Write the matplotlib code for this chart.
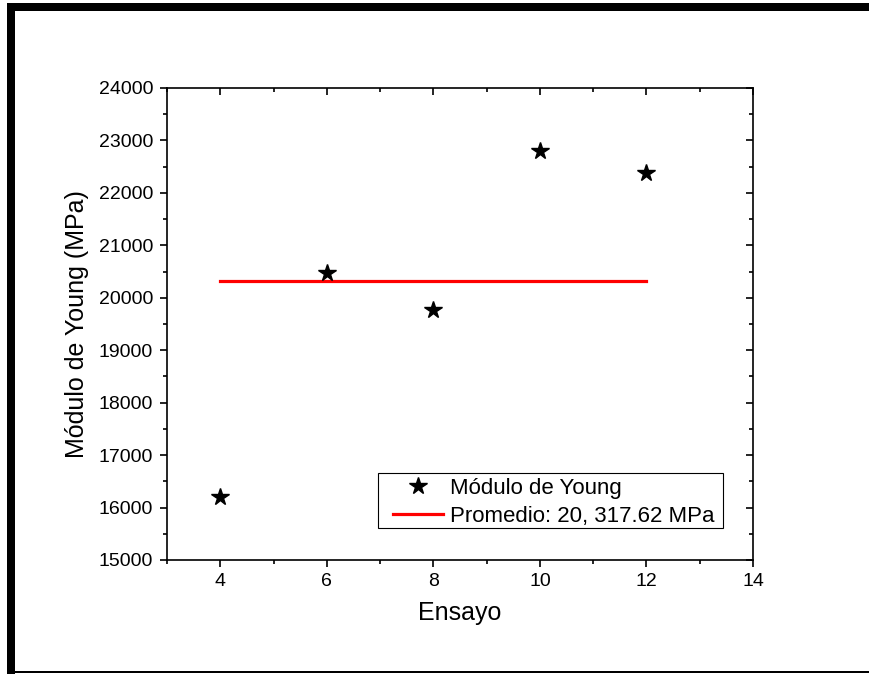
import matplotlib
matplotlib.use("Agg")
import matplotlib.pyplot as plt
from matplotlib.ticker import MultipleLocator
from matplotlib.patches import Rectangle

plt.rcParams['font.family'] = ['Liberation Sans', 'DejaVu Sans']

ensayo = [4, 6, 8, 10, 12]
modulo = [16200, 20465, 19767, 22800, 22386]
promedio = 20317.62
prom_x = [4, 12]
series_label = "Módulo de Young"
prom_label = "Promedio: 20, 317.62 MPa"

fig = plt.figure(figsize=(8.7, 6.74), dpi=100)
ax = fig.add_axes([167/870, 1-560/674, (753-167)/870, (560-88)/674])

ax.plot(ensayo, modulo, linestyle='none', marker='*', color='black',
        markersize=13, label=series_label, zorder=3)
ax.plot(prom_x, [promedio, promedio], color='#ff0000', linewidth=2.3,
        label=prom_label, zorder=2)

ax.set_xlim(3, 14)
ax.set_ylim(15000, 24000)
ax.xaxis.set_major_locator(MultipleLocator(2))
ax.xaxis.set_minor_locator(MultipleLocator(1))
ax.yaxis.set_major_locator(MultipleLocator(1000))
ax.yaxis.set_minor_locator(MultipleLocator(500))
ax.set_xticks([4, 6, 8, 10, 12, 14])

for sp in ax.spines.values():
    sp.set_linewidth(1.2)

ax.tick_params(which='major', direction='out', length=5, width=1.2,
               labelsize=14, pad=4)
ax.tick_params(which='minor', direction='out', length=3, width=1.2)
ax.tick_params(axis='y', which='major', pad=5)

# top and right ticks pointing inward
secx = ax.secondary_xaxis('top')
secx.xaxis.set_major_locator(MultipleLocator(2))
secx.xaxis.set_minor_locator(MultipleLocator(1))
secx.tick_params(which='major', direction='in', length=5, width=1.2, labeltop=False)
secx.tick_params(which='minor', direction='in', length=3, width=1.2)
secx.spines['top'].set_visible(False)
secy = ax.secondary_yaxis('right')
secy.yaxis.set_major_locator(MultipleLocator(1000))
secy.yaxis.set_minor_locator(MultipleLocator(500))
secy.tick_params(which='major', direction='in', length=5, width=1.2, labelright=False)
secy.tick_params(which='minor', direction='in', length=3, width=1.2)
secy.spines['right'].set_visible(False)

ax.set_xlabel("Ensayo", fontsize=18, labelpad=8)
ax.set_ylabel("Módulo de Young (MPa)", fontsize=18, labelpad=7)

# legend (frame drawn separately for Origin-like padding)
leg = ax.legend(loc='center left', bbox_to_anchor=((393-167)/586, (560-502.5)/472),
                fontsize=16, frameon=False, borderpad=0, handlelength=2.25,
                handletextpad=0.3, labelspacing=0.3, borderaxespad=0)
ax.add_patch(Rectangle(((378-167)/586, (560-528)/472), 345/586, 55/472,
                       transform=ax.transAxes, facecolor='white',
                       edgecolor='black', linewidth=0.8, zorder=4))
leg.set_zorder(5)

# outer frame decorations
fig.patches.append(Rectangle((7/870, 0), 8/870, 1-3/674, transform=fig.transFigure,
                             facecolor='black', edgecolor='none'))
fig.patches.append(Rectangle((7/870, 1-11/674), 1, 8/674, transform=fig.transFigure,
                             facecolor='black', edgecolor='none'))
fig.patches.append(Rectangle((7/870, 1-673/674), 1, 2.5/674, transform=fig.transFigure,
                             facecolor='black', edgecolor='none'))

fig.savefig("out.png", dpi=100)
